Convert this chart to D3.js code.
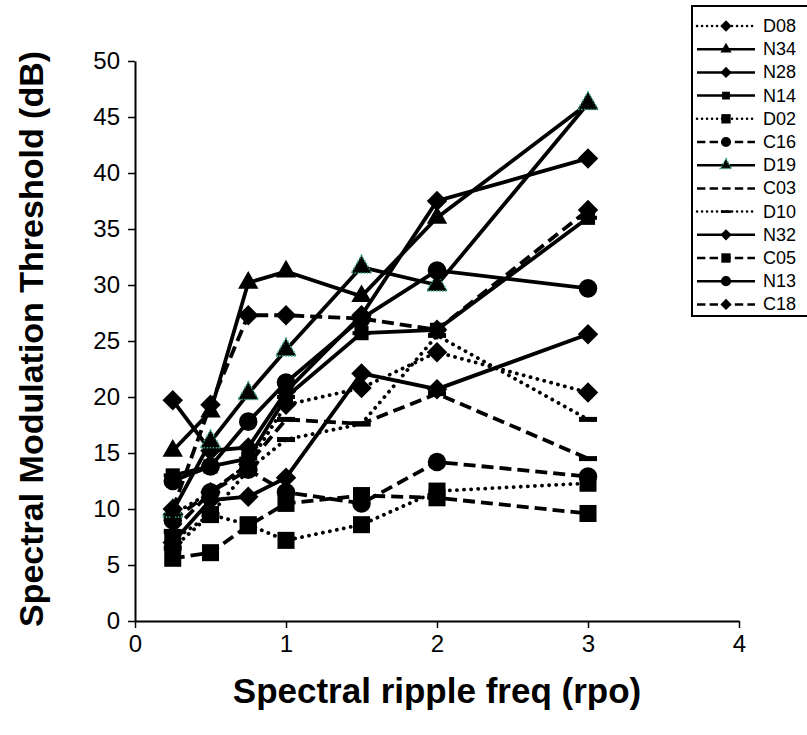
<!DOCTYPE html>
<html>
<head>
<meta charset="utf-8">
<script src="https://cdn.jsdelivr.net/npm/d3@7"></script>
<style>
  body { margin: 0; background: #fff; }
  text { font-family: "Liberation Sans", Arial, sans-serif; }
</style>
</head>
<body>
<svg width="807" height="735"></svg>
<script>
// ripple frequencies (rpo)
const xVals = [0.25, 0.5, 0.75, 1, 1.5, 2, 3];
const xTicks = [0, 1, 2, 3, 4];
const yTicks = [0, 5, 10, 15, 20, 25, 30, 35, 40, 45, 50];

// thresholds (dB) per listener
const D08 = [9.5, 11.5, 14, 19.3, 20.8, 24, 20.4];
const N34 = [15.2, 18.7, 30.2, 31.2, 29, 36, 46.2];
const N28 = [19.7, 15.2, 15.5, 20.5, 27.3, 37.5, 41.3];
const N14 = [13, 13.8, 14.5, 20, 25.7, 26, 36];
const D02 = [7.2, 9.5, 8.6, 7.2, 8.6, 11.6, 12.3];
const C16 = [9, 11.5, 13.5, 11.5, 10.5, 14.2, 12.9];
const D19 = [9.8, 16, 20.3, 24.2, 31.6, 30, 46.2];
const C03 = [8, 11.5, 14, 18, 17.6, 20.3, 14.5];
const D10 = [6.5, 9.5, 13.5, 16.2, 17.6, 25.5, 18];
const N32 = [7, 10.8, 11.1, 12.8, 22.1, 20.7, 25.6];
const C05 = [5.6, 6.1, 8.5, 10.5, 11.2, 11, 9.6];
const N13 = [12.5, 13.8, 17.8, 21.3, 27, 31.3, 29.7];
const C18 = [10, 19.3, 27.3, 27.3, 27, 26, 36.7];

const names = ["D08", "N34", "N28", "N14", "D02", "C16", "D19", "C03", "D10", "N32", "C05", "N13", "C18"];
const values = [D08, N34, N28, N14, D02, C16, D19, C03, D10, N32, C05, N13, C18];

// line style + marker for each series
const look = {
  D08: { dash: "dot", mark: "diamond" },
  N34: { dash: "solid", mark: "triangle" },
  N28: { dash: "solid", mark: "diamond" },
  N14: { dash: "solid", mark: "bowtie" },
  D02: { dash: "dot", mark: "square" },
  C16: { dash: "dash", mark: "circle" },
  D19: { dash: "solid", mark: "greentri" },
  C03: { dash: "dash", mark: "bar" },
  D10: { dash: "dot", mark: "bar" },
  N32: { dash: "solid", mark: "diamond" },
  C05: { dash: "dash", mark: "square" },
  N13: { dash: "solid", mark: "circle" },
  C18: { dash: "dash", mark: "diamond" }
};

const svg = d3.select("svg");

const x = d3.scaleLinear().domain([0, 4]).range([135, 739]);
const y = d3.scaleLinear().domain([0, 50]).range([621, 61]);

// axes
const yAxis = svg.append("g")
  .attr("transform", "translate(135,0)")
  .call(d3.axisLeft(y).tickValues(yTicks).tickSize(7).tickSizeOuter(0).tickPadding(8));
const xAxis = svg.append("g")
  .attr("transform", "translate(0,621)")
  .call(d3.axisBottom(x).tickValues(xTicks).tickFormat(d3.format("d"))
    .tickSize(7).tickSizeOuter(0).tickPadding(7));

[yAxis, xAxis].forEach((g) => {
  g.select(".domain").attr("stroke", "#000").attr("stroke-width", 2);
  g.selectAll(".tick line").attr("stroke", "#000").attr("stroke-width", 1.5);
  g.selectAll(".tick text").attr("font-size", 24).attr("fill", "#000")
    .attr("font-family", "'Liberation Sans', Arial, sans-serif");
});

svg.append("text")
  .attr("x", 437).attr("y", 703)
  .attr("text-anchor", "middle")
  .attr("font-size", 35).attr("font-weight", "bold")
  .text("Spectral ripple freq (rpo)");

svg.append("text")
  .attr("transform", "translate(43,339) rotate(-90)")
  .attr("text-anchor", "middle")
  .attr("font-size", 34).attr("font-weight", "bold")
  .text("Spectral Modulation Threshold (dB)");

function dashArray(kind, scale) {
  if (kind === "dot") return `0.1 ${7 * scale}`;
  if (kind === "dash") return `${12 * scale} ${6 * scale}`;
  return null;
}

// marker drawing, k = scale factor
function drawMarker(g, kind, k) {
  if (kind === "diamond") {
    g.append("path").attr("d", d3.symbol(d3.symbolSquare, 210 * k * k)())
      .attr("transform", "rotate(45)").attr("fill", "#000");
  } else if (kind === "square") {
    g.append("path").attr("d", d3.symbol(d3.symbolSquare, 290 * k * k)()).attr("fill", "#000");
  } else if (kind === "circle") {
    g.append("path").attr("d", d3.symbol(d3.symbolCircle, 270 * k * k)()).attr("fill", "#000");
  } else if (kind === "triangle") {
    g.append("path").attr("d", d3.symbol(d3.symbolTriangle, 180 * k * k)()).attr("fill", "#000");
  } else if (kind === "greentri") {
    g.append("path").attr("d", d3.symbol(d3.symbolTriangle, 180 * k * k)())
      .attr("fill", "#000").attr("stroke", "#3aa57a").attr("stroke-width", 1.6)
      .attr("stroke-dasharray", "1.5 1.5");
  } else if (kind === "bowtie") {
    g.append("path").attr("d", d3.symbol(d3.symbolSquare, 200 * k * k)()).attr("fill", "#000");
    g.append("rect").attr("x", -9 * k).attr("y", -2 * k).attr("width", 18 * k).attr("height", 4 * k).attr("fill", "#000");
  } else if (kind === "bar") {
    g.append("rect").attr("x", -9 * k).attr("y", -2.5 * k).attr("width", 18 * k).attr("height", 5 * k).attr("fill", "#000");
  }
}

const line = d3.line().x((d) => x(d[0])).y((d) => y(d[1]));

const plot = svg.append("g");

names.forEach((name, i) => {
  const pts = xVals.map((xv, j) => [xv, values[i][j]]);
  const st = look[name];
  plot.append("path")
    .datum(pts)
    .attr("d", line)
    .attr("fill", "none")
    .attr("stroke", "#000")
    .attr("stroke-width", 3.8)
    .attr("stroke-linecap", st.dash === "dot" ? "round" : "butt")
    .attr("stroke-dasharray", dashArray(st.dash, 1));

  pts.forEach((p) => {
    const m = plot.append("g").attr("transform", `translate(${x(p[0])},${y(p[1])})`);
    drawMarker(m, st.mark, 1);
  });
});

// legend
const legX = 692, legTop = 6, legStep = 23.2;
const leg = svg.append("g");
leg.append("rect")
  .attr("x", legX).attr("y", legTop)
  .attr("width", 120).attr("height", 310)
  .attr("fill", "#fff").attr("stroke", "#000").attr("stroke-width", 2);

names.forEach((name, i) => {
  const st = look[name];
  const ly = legTop + 20 + i * legStep;
  leg.append("line")
    .attr("x1", legX + 5).attr("x2", legX + 63)
    .attr("y1", ly).attr("y2", ly)
    .attr("stroke", "#000").attr("stroke-width", 2.5)
    .attr("stroke-linecap", st.dash === "dot" ? "round" : "butt")
    .attr("stroke-dasharray", dashArray(st.dash, 0.7));
  if (name !== "C03") {
    const m = leg.append("g").attr("transform", `translate(${legX + 34},${ly})`);
    drawMarker(m, st.mark, 0.55);
  }
  leg.append("text")
    .attr("x", legX + 71).attr("y", ly + 6)
    .attr("font-size", 18)
    .text(name);
});
</script>
</body>
</html>
